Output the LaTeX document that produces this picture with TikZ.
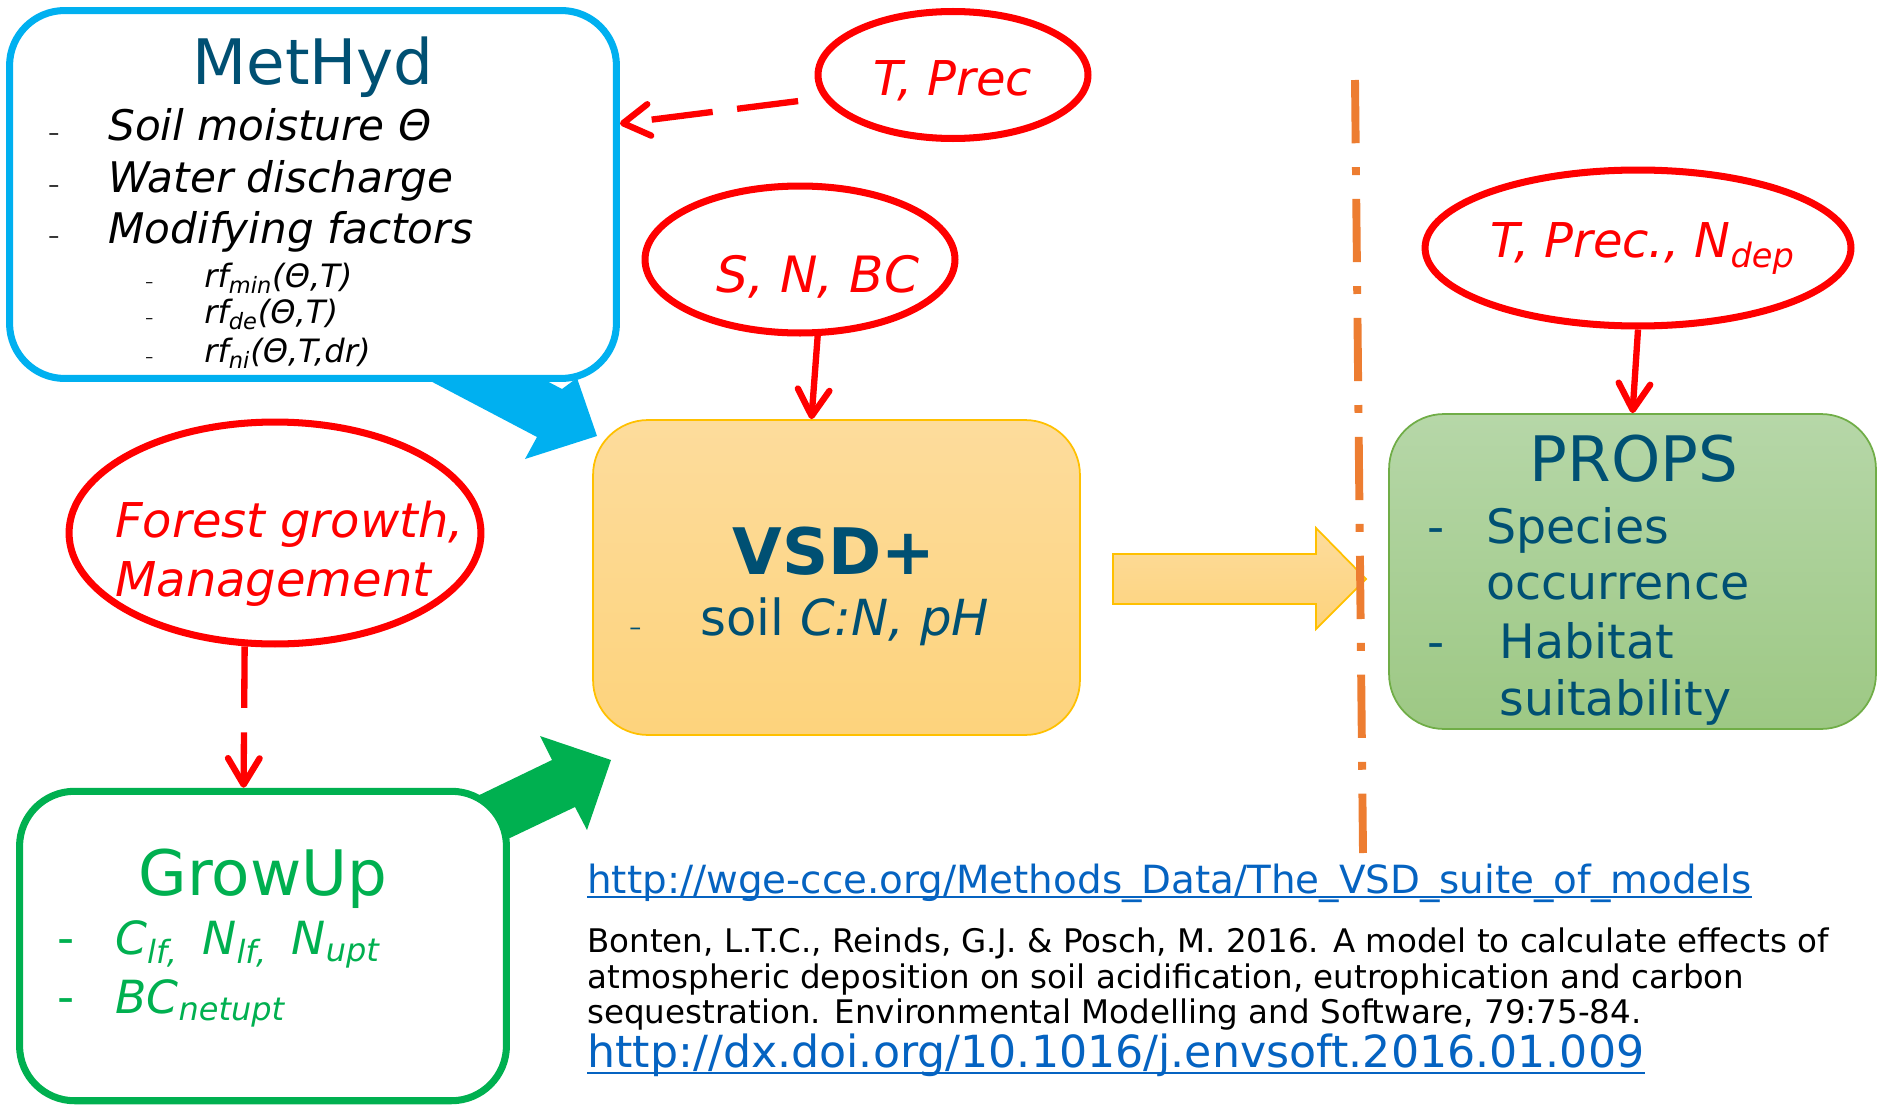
\documentclass[tikz,border=0pt]{standalone}
\usepackage{fontspec}
\setmainfont{DejaVu Sans}
\usetikzlibrary{shapes.geometric,arrows.meta}

\definecolor{titleblue}{RGB}{0,80,115}
\definecolor{methcyan}{RGB}{0,176,240}
\definecolor{growgreen}{RGB}{0,176,80}
\definecolor{propsgreen}{RGB}{112,173,71}
\definecolor{linkblue}{RGB}{5,99,193}
\definecolor{lineorange}{RGB}{237,125,49}
\definecolor{vsdgold}{RGB}{255,192,0}
\definecolor{vsdtop}{RGB}{253,220,156}
\definecolor{vsdbottom}{RGB}{253,211,124}
\definecolor{propstop}{RGB}{182,215,168}
\definecolor{propsbottom}{RGB}{157,200,132}

\tikzset{
  modelbox/.style={rectangle, rounded corners=1.1cm, inner sep=0pt, line width=4pt, fill=white},
  shadedbox/.style={rectangle, rounded corners=1.1cm, inner sep=0pt, line width=1pt},
  inputell/.style={ellipse, draw=red, line width=4pt, inner sep=0pt},
  redarrow/.style={draw=red, line width=3.6pt, -{Straight Barb[length=15pt,width=18pt,round]}},
  reddash/.style={redarrow, dash pattern=on 35pt off 14pt},
  txt/.style={inner sep=0pt, anchor=base west},
  title/.style={inner sep=0pt, anchor=base, font=\fontsize{35.7}{42}\selectfont},
  methitem/.style={txt, font=\fontsize{24}{28}\selectfont\itshape},
  methsub/.style={txt, font=\fontsize{18.3}{22}\selectfont\itshape},
  dashsmall/.style={txt, font=\fontsize{12.5}{15}\selectfont},
  dashtiny/.style={txt, font=\fontsize{9}{11}\selectfont},
  inputtext/.style={inner sep=0pt, text=red, font=\fontsize{27.3}{32}\selectfont\itshape},
  boxitem/.style={txt, font=\fontsize{27}{32}\selectfont},
  linktext/.style={txt, text=linkblue},
  reftext/.style={txt, font=\fontsize{18.5}{22}\selectfont},
  orangeline/.style={draw=lineorange, line width=4.5pt, dash pattern=on 36pt off 13.6pt on 4.5pt off 13.6pt}
}

\begin{document}
\begin{tikzpicture}[x=0.02cm,y=-0.02cm]
  \useasboundingbox (0,0) rectangle (1878,1105);
  % block arrows behind the boxes
  \fill[methcyan] (400,365) -- (537,437) -- (525,459) -- (597,436) -- (577,378) -- (562,389) -- (430,320) -- cycle;
  \fill[growgreen] (440,814) -- (552,760) -- (540,736) -- (611,760) -- (587,830) -- (575,807) -- (470,857) -- cycle;
  % models
  \node[modelbox, draw=methcyan, minimum width=12.14cm, minimum height=7.36cm] (methyd) at (313,194.5) {};
  \node[modelbox, draw=growgreen, minimum width=9.74cm, minimum height=6.19cm] (growup) at (263,946) {};
  \node[shadedbox, draw=vsdgold, top color=vsdtop, bottom color=vsdbottom, minimum width=9.74cm, minimum height=6.3cm] (vsd) at (836.5,577.5) {};
  \node[shadedbox, draw=propsgreen, top color=propstop, bottom color=propsbottom, minimum width=9.74cm, minimum height=6.3cm] (props) at (1632.5,571.5) {};
  % inputs
  \node[inputell, minimum width=5.4cm, minimum height=2.54cm] (tprec) at (953,75) {};
  \node[inputell, minimum width=6.2cm, minimum height=2.94cm] (snbc) at (800,259.5) {};
  \node[inputell, minimum width=8.52cm, minimum height=3.12cm] (tpn) at (1638,248) {};
  \node[inputell, minimum width=8.24cm, minimum height=4.44cm] (forest) at (275,533) {};
  % MetHyd
  \node[title, text=titleblue] (methydtitle) at (313,85) {MetHyd};
  \node[dashsmall] (md1) at (48,140) {–};
  \node[dashsmall] (md2) at (48,192) {–};
  \node[dashsmall] (md3) at (48,243) {–};
  \node[methitem] (soil) at (108,140) {Soil moisture Θ};
  \node[methitem] (water) at (108,192) {Water discharge};
  \node[methitem] (modif) at (108,243) {Modifying factors};
  \node[dashtiny] (ms1) at (145,287) {–};
  \node[dashtiny] (ms2) at (145,323) {–};
  \node[dashtiny] (ms3) at (145,362) {–};
  \node[methsub] (rfmin) at (204,287) {rf\textsubscript{min}(Θ,T)};
  \node[methsub] (rfde) at (204,323) {rf\textsubscript{de}(Θ,T)};
  \node[methsub] (rfni) at (204,362) {rf\textsubscript{ni}(Θ,T,dr)};
  % input texts
  \node[inputtext, anchor=base] (tprectext) at (953,95) {T, Prec};
  \node[inputtext, anchor=base, font=\fontsize{28.5}{33}\selectfont\itshape] (snbctext) at (818,292) {S, N, BC};
  \node[inputtext, anchor=base west] (tpntext) at (1490,257) {T, Prec., N\textsubscript{dep}};
  \node[inputtext, anchor=base west] (forest1) at (115,537) {Forest growth,};
  \node[inputtext, anchor=base west] (forest2) at (115,596) {Management};
  % VSD+
  \node[title, text=titleblue, font=\fontsize{36.5}{42}\selectfont\bfseries] (vsdtitle) at (834,574) {VSD+};
  \node[dashsmall, text=titleblue, font=\fontsize{13.6}{16}\selectfont] (vd1) at (629,635) {–};
  \node[boxitem, text=titleblue, font=\fontsize{28.3}{33}\selectfont] (soilcn) at (700,635) {soil \textit{C:N, pH}};
  % PROPS
  \node[title, text=titleblue] (propstitle) at (1634,481) {PROPS};
  \node[boxitem, text=titleblue] (pd1) at (1427,543) {-};
  \node[boxitem, text=titleblue] (pd2) at (1427,658) {-};
  \node[boxitem, text=titleblue] (species) at (1486,543) {Species};
  \node[boxitem, text=titleblue] (occur) at (1486,599) {occurrence};
  \node[boxitem, text=titleblue] (habitat) at (1499,658) {Habitat};
  \node[boxitem, text=titleblue] (suit) at (1499,715) {suitability};
  % GrowUp
  \node[title, text=growgreen] (growtitle) at (263,895) {GrowUp};
  \node[boxitem, text=growgreen] (gd1) at (57,954) {-};
  \node[boxitem, text=growgreen] (gd2) at (57,1013) {-};
  \node[boxitem, text=growgreen, font=\fontsize{26}{31}\selectfont\itshape] (clf) at (115,954) {C\textsubscript{lf,}\hspace{0.2cm} N\textsubscript{lf,}\hspace{0.2cm} N\textsubscript{upt}};
  \node[boxitem, text=growgreen, font=\fontsize{26}{31}\selectfont\itshape] (bcnet) at (115,1013) {BC\textsubscript{netupt}};
  % references
  \node[linktext, font=\fontsize{22.1}{26}\selectfont] (link1) at (587,893) {http://wge-cce.org/Methods\_Data/The\_VSD\_suite\_of\_models};
  \draw[linkblue, line width=1.1pt] ([yshift=-0.08cm]link1.base west) -- ([yshift=-0.08cm]link1.base east);
  \node[reftext] (ref1) at (587,952) {Bonten, L.T.C., Reinds, G.J. \& Posch, M. 2016. A model to calculate effects of};
  \node[reftext] (ref2) at (587,988) {atmospheric deposition on soil acidification, eutrophication and carbon};
  \node[reftext] (ref3) at (587,1023) {sequestration. Environmental Modelling and Software, 79:75-84.};
  \node[linktext, font=\fontsize{25.2}{30}\selectfont] (link2) at (587,1067) {http://dx.doi.org/10.1016/j.envsoft.2016.01.009};
  \draw[linkblue, line width=1.3pt] ([yshift=-0.12cm]link2.base west) -- ([yshift=-0.12cm]link2.base east);
  % input arrows
  \draw[reddash, shorten <=0.5cm] (tprec.190) -- (methyd.13);
  \draw[redarrow] (snbc.-77) -- (vsd.99);
  \draw[redarrow] (tpn.south) -- (props.north);
  \draw[reddash] (forest.-105) -- (growup.97);
  % VSD+ to PROPS
  \draw[draw=vsdgold, line width=1pt, top color=vsdtop, bottom color=vsdbottom] (1113,554) -- (1316,554) -- (1316,528) -- (1366,579) -- (1316,629) -- (1316,604) -- (1113,604) -- cycle;
  \coordinate (divtop) at (1355,80);
  \coordinate (divbot) at (1363,853);
  \draw[orangeline] (divtop) -- (divbot);
\end{tikzpicture}
\end{document}
